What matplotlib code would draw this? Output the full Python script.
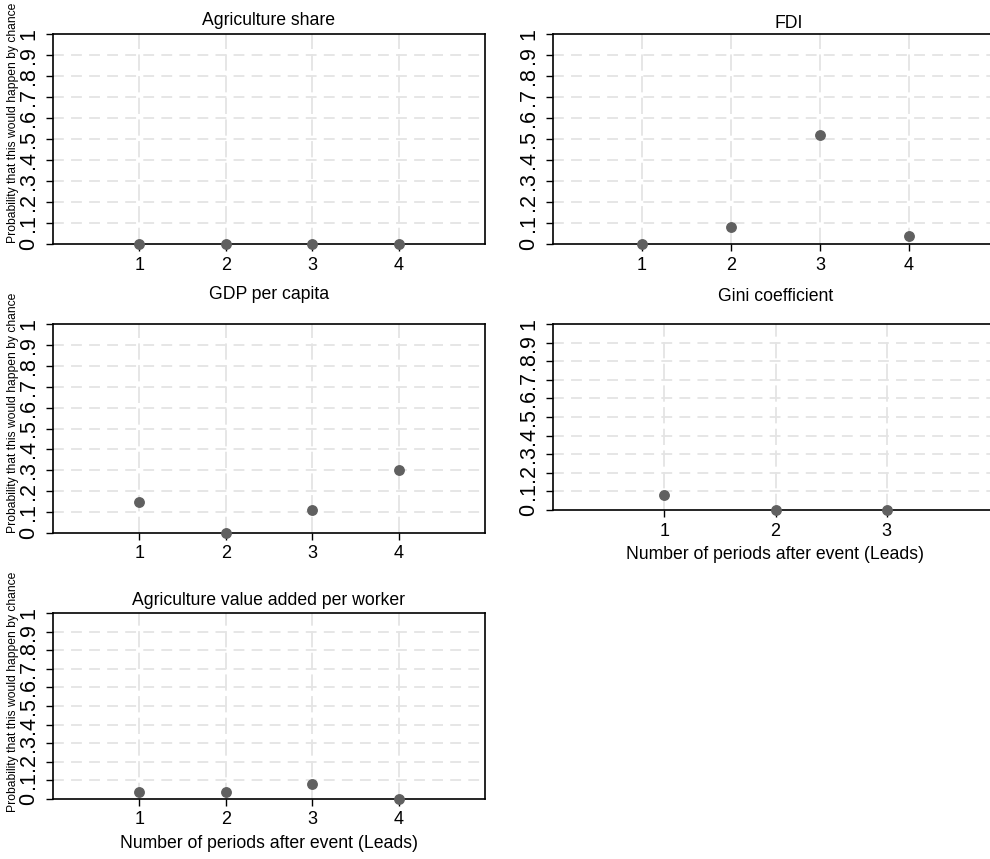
import matplotlib
matplotlib.use('Agg')
import matplotlib.pyplot as plt

plt.rcParams['font.family'] = ['Liberation Sans', 'DejaVu Sans']

# p-values, one list per panel
agri_share_x = [1, 2, 3, 4]
agri_share_p = [0.0, 0.0, 0.0, 0.0]

fdi_x = [1, 2, 3, 4]
fdi_p = [0.0, 0.08, 0.52, 0.04]

gdp_x = [1, 2, 3, 4]
gdp_p = [0.15, 0.0, 0.11, 0.30]

gini_x = [1, 2, 3]
gini_p = [0.08, 0.0, 0.0]

agri_va_x = [1, 2, 3, 4]
agri_va_p = [0.04, 0.04, 0.08, 0.0]

y_ticks = [i / 10 for i in range(11)]
y_tick_labels = ['0', '.1', '.2', '.3', '.4', '.5', '.6', '.7', '.8', '.9', '1']

ylab = 'Probability that this would happen by chance'
xlab = 'Number of periods after event (Leads)'

W, H = 990, 859
fig = plt.figure(figsize=(W / 100, H / 100), dpi=100)


def make_axes(left, right, top, bottom):
    return fig.add_axes([left / W, 1 - bottom / H, (right - left) / W, (bottom - top) / H])


def panel(ax, xs, ps, title, xmax, title_pad, title_x=0.5, show_ylab=False, show_xlab=False):
    ax.set_xlim(0, xmax)
    ax.set_ylim(0, 1)
    ax.set_xticks(xs)
    ax.set_xticklabels([str(v) for v in xs], fontsize=13)
    ax.set_yticks(y_ticks)
    ax.set_yticklabels(y_tick_labels, rotation=90, va='center', ha='right', fontsize=15.5)
    ax.tick_params(axis='both', direction='out', length=5, width=1, color='black')
    ax.tick_params(axis='x', pad=4)
    ax.tick_params(axis='y', pad=5)

    for y in y_ticks[1:-1]:
        ax.axhline(y, color='#e4e4e4', lw=1.3, dashes=(6, 4), zorder=1)
    for x in xs:
        ax.axvline(x, color='#e4e4e4', lw=1.3, dashes=(9, 3), zorder=1)

    for s in ax.spines.values():
        s.set_linewidth(1.2)
        s.set_color('black')
        s.set_zorder(2)

    ax.plot(xs, ps, 'o', color='#606060', ms=6.8, mec='#606060', clip_on=False, zorder=5)

    ax.set_title(title, fontsize=12.7, pad=title_pad, x=title_x)
    if show_ylab:
        ax.text(-0.093, 0.575, ylab, rotation=90, ha='center', va='center',
                fontsize=8.7, transform=ax.transAxes)
    if show_xlab:
        ax.set_xlabel(xlab, fontsize=12.7, labelpad=5)


ax1 = make_axes(53, 485, 34, 244)
panel(ax1, agri_share_x, agri_share_p, 'Agriculture share', 5, 6.5, show_ylab=True)

ax2 = make_axes(553, 998, 34, 244)
panel(ax2, fdi_x, fdi_p, 'FDI', 5, 4.3, title_x=0.53)

ax3 = make_axes(53, 485, 324, 533)
panel(ax3, gdp_x, gdp_p, 'GDP per capita', 5, 18, show_ylab=True)

ax4 = make_axes(553, 998, 324, 510)
panel(ax4, gini_x, gini_p, 'Gini coefficient', 4, 16.6, show_xlab=True)

ax5 = make_axes(53, 485, 613, 799)
panel(ax5, agri_va_x, agri_va_p, 'Agriculture value added per worker', 5, 5.8,
      show_ylab=True, show_xlab=True)

fig.savefig('out.png', dpi=100)
